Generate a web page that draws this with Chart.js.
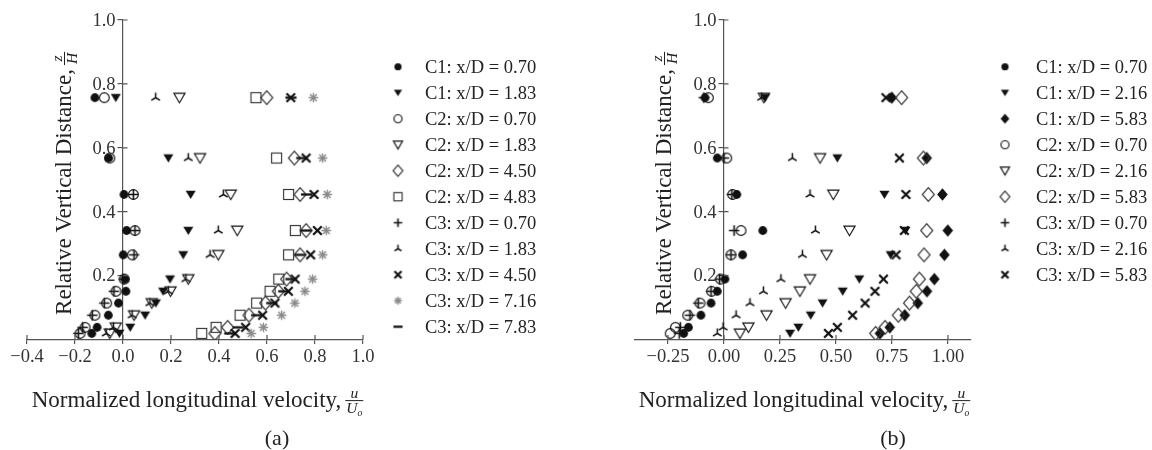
<!DOCTYPE html>
<html>
<head>
<meta charset="utf-8">
<script src="https://cdn.jsdelivr.net/npm/chart.js@4.4.1/dist/chart.umd.min.js"></script>
<style>
    html, body { margin: 0; padding: 0; background: #fff; }
    #wrap { position: relative; width: 1152px; height: 450px; }
    .panel { position: absolute; top: 0; width: 576px; height: 450px; }
</style>
</head>
<body>
<div id="wrap">
    <div class="panel" style="left:0"><canvas id="chartA"></canvas></div>
    <div class="panel" style="left:576px"><canvas id="chartB"></canvas></div>
</div>
<script>
// measuring heights z/H, shared by every series
const levels = [0.757, 0.568, 0.454, 0.341, 0.265, 0.189, 0.151, 0.114, 0.076, 0.038, 0.019];

// tick labels
const xTicksA = [-0.4, -0.2, 0.0, 0.2, 0.4, 0.6, 0.8, 1.0];
const xTicksB = [-0.25, 0.0, 0.25, 0.5, 0.75, 1.0];
const yTicks = [0.2, 0.4, 0.6, 0.8, 1.0];

// panel (a): u/Uo at each level
const labelsA = ["C1: x/D = 0.70", "C1: x/D = 1.83", "C2: x/D = 0.70", "C2: x/D = 1.83", "C2: x/D = 4.50",
    "C2: x/D = 4.83", "C3: x/D = 0.70", "C3: x/D = 1.83", "C3: x/D = 4.50", "C3: x/D = 7.16", "C3: x/D = 7.83"];
const c1a070 = [-0.117, -0.06, 0.004, 0.015, 0.001, 0.008, 0.012, -0.019, -0.061, -0.108, -0.13];
const c1a183 = [-0.03, 0.189, 0.282, 0.272, 0.251, 0.196, 0.167, 0.137, 0.092, 0.03, -0.015];
const c2a070 = [-0.078, -0.055, 0.043, 0.05, 0.039, 0.005, -0.029, -0.068, -0.117, -0.158, -0.179];
const c2a183 = [0.235, 0.321, 0.449, 0.476, 0.397, 0.272, 0.198, 0.12, 0.046, -0.03, -0.055];
const c2a450 = [0.599, 0.714, 0.738, 0.763, 0.738, 0.682, 0.647, 0.594, 0.525, 0.436, 0.383];
const c2a483 = [0.554, 0.64, 0.69, 0.718, 0.69, 0.649, 0.613, 0.557, 0.488, 0.388, 0.328];
const c3a070 = [null, null, 0.043, 0.05, 0.046, 0.003, -0.038, -0.078, -0.128, -0.168, -0.186];
const c3a183 = [0.136, 0.272, 0.418, 0.397, 0.363, 0.262, 0.189, 0.112, 0.038, -0.04, -0.07];
const c3a450 = [0.699, 0.763, 0.796, 0.81, 0.782, 0.717, 0.689, 0.633, 0.582, 0.511, 0.467];
const c3a716 = [0.793, 0.832, 0.851, 0.847, 0.832, 0.79, 0.758, 0.716, 0.661, 0.585, 0.534];
const c3a783 = [0.70, 0.745, 0.765, 0.763, 0.738, 0.70, 0.67, 0.62, 0.557, 0.48, 0.445];

// panel (b)
const labelsB = ["C1: x/D = 0.70", "C1: x/D = 2.16", "C1: x/D = 5.83", "C2: x/D = 0.70", "C2: x/D = 2.16",
    "C2: x/D = 5.83", "C3: x/D = 0.70", "C3: x/D = 2.16", "C3: x/D = 5.83"];
const c1b070 = [-0.085, -0.03, 0.057, 0.173, 0.083, 0.004, -0.03, -0.058, -0.103, -0.159, -0.18];
const c1b216 = [0.183, 0.506, 0.716, 0.81, 0.744, 0.604, 0.53, 0.44, 0.387, 0.332, 0.295];
const c1b583 = [0.749, 0.905, 0.975, 0.999, 0.984, 0.939, 0.906, 0.865, 0.807, 0.74, 0.696];
const c2b070 = [-0.07, 0.012, 0.039, 0.076, 0.031, -0.015, -0.055, -0.107, -0.162, -0.217, -0.24];
const c2b216 = [0.178, 0.429, 0.488, 0.56, 0.458, 0.384, 0.339, 0.275, 0.19, 0.109, 0.071];
const c2b583 = [0.793, 0.89, 0.912, 0.905, 0.893, 0.872, 0.858, 0.828, 0.778, 0.719, 0.677];
const c3b070 = [-0.09, 0.0, 0.035, 0.045, 0.031, -0.02, -0.058, -0.115, -0.152, -0.195, -0.2];
const c3b216 = [0.168, 0.305, 0.384, 0.408, 0.35, 0.254, 0.176, 0.116, 0.054, -0.004, -0.03];
const c3b583 = [0.723, 0.783, 0.812, 0.805, 0.768, 0.712, 0.674, 0.63, 0.574, 0.506, 0.466];

const FONT = '"Liberation Serif", "Times New Roman", serif';
const INK = "#222";
const AXIS = "#555";
const TICK_FONT = 18.5;

// marker glyphs drawn once into small canvases, used as point styles
function marker(kind, s) {
    const n = Math.ceil(17 * s) | 1;
    const cv = document.createElement("canvas");
    cv.width = n; cv.height = n;
    const g = cv.getContext("2d");
    const c = n / 2;
    g.strokeStyle = "#111"; g.fillStyle = "#111"; g.lineWidth = 1.15;
    const path = pts => { g.beginPath(); pts.forEach((p, i) => i ? g.lineTo(c + p[0] * s, c + p[1] * s) : g.moveTo(c + p[0] * s, c + p[1] * s)); g.closePath(); };
    const seg = (x1, y1, x2, y2) => { g.moveTo(c + x1 * s, c + y1 * s); g.lineTo(c + x2 * s, c + y2 * s); };
    switch (kind) {
        case "dot": g.beginPath(); g.arc(c, c, 4.4 * s, 0, Math.PI * 2); g.fill(); break;
        case "tdown": path([[-5, -3.7], [5, -3.7], [0, 4.4]]); g.fill(); break;
        case "circle": g.beginPath(); g.arc(c, c, 4.9 * s, 0, Math.PI * 2); g.stroke(); break;
        case "tdownOpen": path([[-5.6, -4.4], [5.6, -4.4], [0, 5.2]]); g.stroke(); break;
        case "diamond": g.strokeStyle = "#333"; path([[0, -6.8], [6, 0], [0, 6.8], [-6, 0]]); g.stroke(); break;
        case "diamondFill": path([[0, -6.2], [5.3, 0], [0, 6.2], [-5.3, 0]]); g.fill(); break;
        case "square": g.strokeStyle = "#333"; g.strokeRect(c - 5 * s, c - 5 * s, 10 * s, 10 * s); break;
        case "plus": g.lineWidth = 1.6; g.beginPath(); seg(-5.2, 0, 5.2, 0); seg(0, -5.2, 0, 5.2); g.stroke(); break;
        case "tri": g.lineWidth = 1.5; g.beginPath(); seg(0, 0, 0, -5); seg(0, 0, -4.3, 2.6); seg(0, 0, 4.3, 2.6); g.stroke(); break;
        case "x": g.lineWidth = 2.2; g.beginPath(); seg(-4.3, -4.3, 4.3, 4.3); seg(-4.3, 4.3, 4.3, -4.3); g.stroke(); break;
        case "star":
            g.strokeStyle = "#8a8a8a"; g.lineWidth = 1.4; g.beginPath();
            for (let k = 0; k < 4; k++) {
                const a = k * Math.PI / 4;
                seg(-4.8 * Math.cos(a), -4.8 * Math.sin(a), 4.8 * Math.cos(a), 4.8 * Math.sin(a));
            }
            g.stroke(); break;
        case "hline": g.lineWidth = 2.3; g.beginPath(); seg(-5.6, 0, 5.6, 0); g.stroke(); break;
    }
    return cv;
}

const fmt = d => v => (v < 0 ? "\u2212" : "") + Math.abs(v).toFixed(d);

function fraction(ctx, x, barY, num, den, sub, size) {
    ctx.font = `italic ${size}px ${FONT}`;
    const nw = ctx.measureText(num).width;
    const dw = ctx.measureText(den).width;
    ctx.font = `italic ${size * 0.62}px ${FONT}`;
    const sw = sub ? ctx.measureText(sub).width : 0;
    const w = Math.max(nw, dw + sw) + 2;
    ctx.fillRect(x, barY - 0.5, w, 1);
    ctx.textAlign = "left"; ctx.textBaseline = "alphabetic";
    ctx.font = `italic ${size}px ${FONT}`;
    ctx.fillText(num, x + (w - nw) / 2, barY - 2.5);
    const dx = x + (w - dw - sw) / 2, dy = barY + 2 + size * 0.68;
    ctx.fillText(den, dx, dy);
    if (sub) {
        ctx.font = `italic ${size * 0.62}px ${FONT}`;
        ctx.fillText(sub, dx + dw, dy + size * 0.2);
    }
    return w;
}

const figurePlugin = {
    id: "figure",
    afterDraw(chart, args, o) {
        const ctx = chart.ctx;
        const xs = chart.scales.x, ys = chart.scales.y;
        const x0 = xs.getPixelForValue(0);
        ctx.save();
        // inner half of the crossing tick marks
        ctx.strokeStyle = AXIS; ctx.lineWidth = 1.2; ctx.beginPath();
        xs.ticks.forEach(t => { const p = xs.getPixelForValue(t.value); ctx.moveTo(p, xs.top); ctx.lineTo(p, xs.top - 4.5); });
        ys.ticks.forEach(t => { const p = ys.getPixelForValue(t.value); ctx.moveTo(x0, p); ctx.lineTo(x0 + 4.5, p); });
        ctx.stroke();

        // y tick labels sit left of the spine at x = 0
        ctx.fillStyle = "#333";
        ctx.font = `${TICK_FONT}px ${FONT}`;
        ctx.textAlign = "right"; ctx.textBaseline = "middle";
        ys.ticks.forEach(t => ctx.fillText(fmt(1)(t.value), x0 - 7.5, ys.getPixelForValue(t.value) + 1));

        // legend
        ctx.fillStyle = INK;
        ctx.font = `18.5px ${FONT}`;
        ctx.textAlign = "left"; ctx.textBaseline = "middle";
        chart.data.datasets.forEach((ds, i) => {
            const y = o.legend.y0 + i * o.legend.dy;
            const m = ds.legendMarker;
            ctx.drawImage(m, o.legend.mx - m.width / 2, y - m.height / 2);
            ctx.fillText(ds.label, o.legend.tx, y + 1);
        });

        // x title with u/Uo
        const ts = 23;
        ctx.font = `${ts}px ${FONT}`;
        const xt = "Normalized longitudinal velocity,";
        const xw = ctx.measureText(xt).width;
        const left = o.xTitle.cx - (xw + 20) / 2;
        ctx.textBaseline = "alphabetic";
        ctx.fillText(xt, left, o.xTitle.base);
        fraction(ctx, left + xw + 4, o.xTitle.base - 6.4, "u", "U", "o", 15.5);

        // y title with z/H, rotated
        ctx.save();
        ctx.translate(o.yTitle.cx, o.yTitle.cy);
        ctx.rotate(-Math.PI / 2);
        ctx.font = `${ts}px ${FONT}`;
        const yt = "Relative Vertical Distance,";
        const yw = ctx.measureText(yt).width;
        const base = 0.3 * ts;
        ctx.fillText(yt, -(yw + 18) / 2, base);
        fraction(ctx, -(yw + 18) / 2 + yw + 4, base - 6.4, "z", "H", "", 15.5);
        ctx.restore();

        // caption
        ctx.font = `22px ${FONT}`;
        ctx.textAlign = "center";
        ctx.fillText(o.caption.text, o.caption.x, o.caption.y);
        ctx.restore();
    }
};

function makeChart(id, labels, series, kinds, xMin, xMax, xTicks, dec, pad, fig) {
    return new Chart(document.getElementById(id), {
        type: "scatter",
        data: {
            datasets: series.map((vals, i) => ({
                label: labels[i],
                data: levels.map((z, k) => ({ x: vals[k], y: z })).filter(p => p.x !== null),
                pointStyle: marker(kinds[i], 1),
                legendMarker: marker(kinds[i], 0.82),
                pointRadius: 5,
                order: -i
            }))
        },
        plugins: [figurePlugin],
        options: {
            responsive: true,
            maintainAspectRatio: false,
            animation: false,
            devicePixelRatio: 1,
            layout: { padding: pad },
            plugins: { legend: { display: false }, tooltip: { enabled: false }, figure: fig },
            scales: {
                x: {
                    type: "linear", min: xMin, max: xMax,
                    afterBuildTicks: s => { s.ticks = xTicks.map(v => ({ value: v })); },
                    afterFit: s => { s.height = 30; },
                    ticks: { callback: fmt(dec), font: { family: FONT, size: TICK_FONT }, color: "#333", padding: 2, maxRotation: 0, autoSkip: false },
                    grid: { drawOnChartArea: false, tickLength: 4.5, color: AXIS, lineWidth: 1.2 },
                    border: { color: AXIS, width: 1.2 }
                },
                y: {
                    type: "linear", min: 0, max: 1, position: { x: 0 },
                    afterBuildTicks: s => { s.ticks = yTicks.map(v => ({ value: v })); },
                    afterFit: s => { s.width = 0; },
                    ticks: { display: false },
                    grid: { drawOnChartArea: false, tickLength: 4.5, color: AXIS, lineWidth: 1.2 },
                    border: { color: AXIS, width: 1.2 }
                }
            }
        }
    });
}

makeChart("chartA", labelsA,
    [c1a070, c1a183, c2a070, c2a183, c2a450, c2a483, c3a070, c3a183, c3a450, c3a716, c3a783],
    ["dot", "tdown", "circle", "tdownOpen", "diamond", "square", "plus", "tri", "x", "star", "hline"],
    -0.4, 1.0, xTicksA, 1,
    { left: 27, right: 213, top: 20, bottom: 80.5 },
    {
        legend: { mx: 398, tx: 425, y0: 66.7, dy: 26 },
        xTitle: { cx: 196.5, base: 407 },
        yTitle: { cx: 64, cy: 183 },
        caption: { text: "(a)", x: 277, y: 445 }
    });

makeChart("chartB", labelsB,
    [c1b070, c1b216, c1b583, c2b070, c2b216, c2b583, c3b070, c3b216, c3b583],
    ["dot", "tdown", "diamondFill", "circle", "tdownOpen", "diamond", "plus", "tri", "x"],
    -0.4, 1.1, xTicksB, 2,
    { left: 58.4, right: 181.6, top: 20, bottom: 80.5 },
    {
        legend: { mx: 429, tx: 460, y0: 66.7, dy: 26 },
        xTitle: { cx: 227.5, base: 407 },
        yTitle: { cx: 88, cy: 183 },
        caption: { text: "(b)", x: 317, y: 445 }
    });
</script>
</body>
</html>
